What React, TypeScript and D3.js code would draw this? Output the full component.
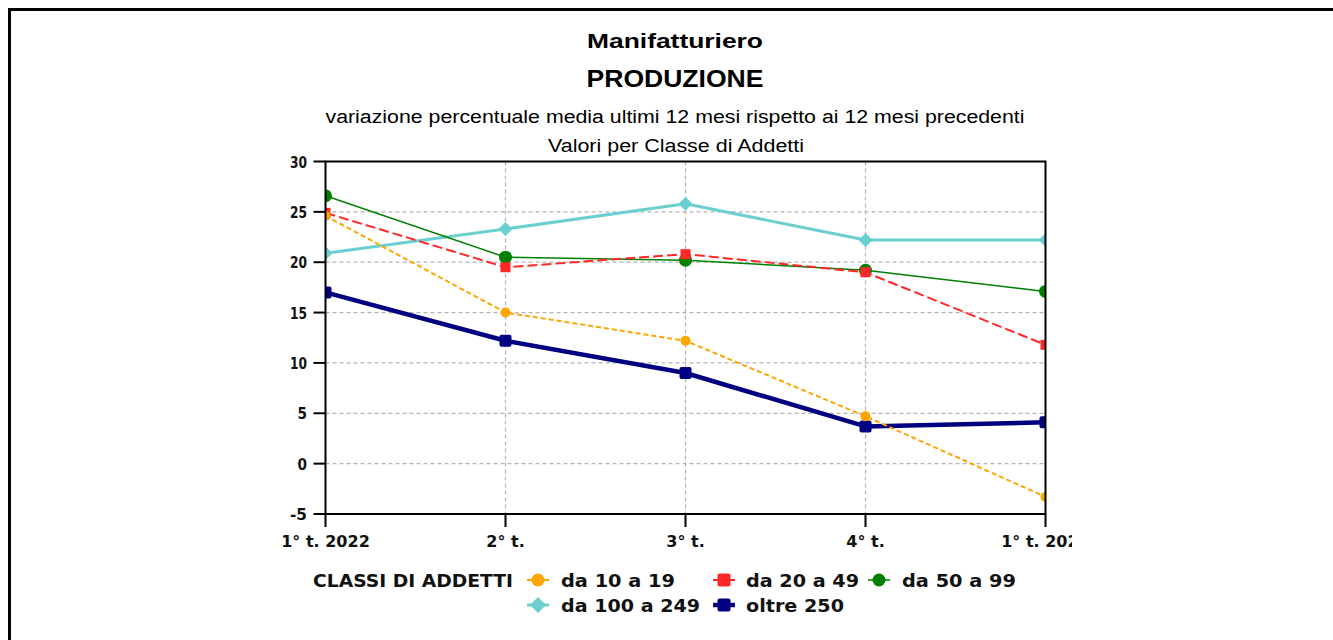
import React from "react";
import * as d3 from "d3";

const categories = ["1° t. 2022", "2° t.", "3° t.", "4° t.", "1° t. 2023"];
const yTicks = [-5, 0, 5, 10, 15, 20, 25, 30];

const da10a19 = [24.6, 15.0, 12.2, 4.7, -3.3];
const da20a49 = [24.9, 19.5, 20.8, 19.0, 11.8];
const da50a99 = [26.6, 20.5, 20.2, 19.2, 17.1];
const da100a249 = [20.9, 23.3, 25.8, 22.2, 22.2];
const oltre250 = [17.0, 12.2, 9.0, 3.7, 4.1];

const seriesNames = ["da 10 a 19", "da 20 a 49", "da 50 a 99", "da 100 a 249", "oltre 250"];

type Style = { color: string; width: number; dash?: string; marker: string; size: number };
const styles: Style[] = [
  { color: "#FFA500", width: 2, dash: "5,3", marker: "circle", size: 5 },
  { color: "#FF2828", width: 2, dash: "10,4", marker: "square", size: 10 },
  { color: "#008000", width: 1.5, marker: "circle", size: 6.5 },
  { color: "#6CCFCF", width: 3, marker: "diamond", size: 7 },
  { color: "#000080", width: 4.5, marker: "square", size: 12 },
];
const values = [da10a19, da20a49, da50a99, da100a249, oltre250];
const drawOrder = [4, 3, 2, 1, 0];

const L = 325.5, R = 1045.5, T = 161.5, B = 514;

function Marker({ kind, x, y, size, color }: { kind: string; x: number; y: number; size: number; color: string }) {
  if (kind === "circle") return <circle cx={x} cy={y} r={size} fill={color} />;
  if (kind === "square")
    return <rect x={x - size / 2} y={y - size / 2} width={size} height={size} rx={size > 11 ? 2 : 0} fill={color} />;
  const s = size;
  return <path d={`M${x},${y - s}L${x + s},${y}L${x},${y + s}L${x - s},${y}Z`} fill={color} />;
}

export default function App() {
  const x = d3.scalePoint<string>().domain(categories).range([L, R]);
  const y = d3.scaleLinear().domain([-5, 30]).range([B, T]);
  const line = d3
    .line<number>()
    .x((_, i) => x(categories[i]) as number)
    .y((d) => y(d));

  const legendRow1 = [
    { i: 0, mx: 538, tx: 561, ty: 587, w: 114 },
    { i: 1, mx: 724, tx: 746, ty: 587, w: 113 },
    { i: 2, mx: 879, tx: 902, ty: 587, w: 114 },
  ];
  const legendRow2 = [
    { i: 3, mx: 538, tx: 561, ty: 612, w: 139 },
    { i: 4, mx: 724, tx: 746, ty: 612, w: 98 },
  ];

  return (
    <svg
      width={1333}
      height={640}
      style={{ position: "absolute", left: 0, top: 0, background: "#fff" }}
    >
      <defs>
        <clipPath id="plotClip">
          <rect x={L} y={T} width={R - L} height={B - T} />
        </clipPath>
        <clipPath id="outerClip">
          <rect x={0} y={0} width={1072} height={640} />
        </clipPath>
      </defs>
      <rect x={9.5} y={9.5} width={3000} height={3000} fill="none" stroke="#000" strokeWidth={3} />

      {/* titles */}
      <g fontFamily="'Liberation Sans', Arial, sans-serif" textAnchor="middle" fill="#000">
        <text x={675} y={48} fontSize={21} fontWeight="bold" textLength={176} lengthAdjust="spacingAndGlyphs">
          Manifatturiero
        </text>
        <text x={675} y={87} fontSize={23.5} fontWeight="bold" textLength={177} lengthAdjust="spacingAndGlyphs">
          PRODUZIONE
        </text>
        <text x={675} y={123} fontSize={18} textLength={699} lengthAdjust="spacingAndGlyphs">
          variazione percentuale media ultimi 12 mesi rispetto ai 12 mesi precedenti
        </text>
        <text x={676} y={152} fontSize={18} textLength={256} lengthAdjust="spacingAndGlyphs">
          Valori per Classe di Addetti
        </text>
      </g>

      <g clipPath="url(#outerClip)">
        {/* grid */}
        {yTicks
          .filter((t) => t > -5 && t < 30)
          .map((t) => (
            <line key={"gy" + t} x1={L} x2={R} y1={y(t)} y2={y(t)} stroke="#b4b4b4" strokeWidth={1.2} strokeDasharray="4,3" />
          ))}
        {categories.slice(1, -1).map((c) => (
          <line key={"gx" + c} x1={x(c)} x2={x(c)} y1={T} y2={B} stroke="#b4b4b4" strokeWidth={1.2} strokeDasharray="4,3" />
        ))}

        {/* series */}
        <g clipPath="url(#plotClip)">
          {drawOrder.map((si) => {
            const st = styles[si];
            return (
              <g key={"s" + si}>
                <path
                  d={line(values[si]) as string}
                  fill="none"
                  stroke={st.color}
                  strokeWidth={st.width}
                  strokeDasharray={st.dash}
                  strokeLinejoin="round"
                />
                {values[si].map((v, i) => (
                  <Marker key={i} kind={st.marker} x={x(categories[i]) as number} y={y(v)} size={st.size} color={st.color} />
                ))}
              </g>
            );
          })}
        </g>

        {/* spines */}
        <rect x={L} y={T} width={R - L} height={B - T} fill="none" stroke="#000" strokeWidth={2} />

        {/* axes */}
        <g fontFamily="'DejaVu Sans', sans-serif" fontWeight="bold" fontSize={16} fill="#111">
          {yTicks.map((t) => (
            <g key={"yt" + t}>
              <line x1={L - 12} x2={L} y1={y(t)} y2={y(t)} stroke="#000" strokeWidth={2} />
              <text x={307} y={y(t) + 6} textAnchor="end" textLength={t < 0 || t >= 10 ? 17 : 9.5} lengthAdjust="spacingAndGlyphs">
                {t}
              </text>
            </g>
          ))}
          {categories.map((c) => (
            <g key={"xt" + c}>
              <line x1={x(c)} x2={x(c)} y1={B} y2={B + 13} stroke="#000" strokeWidth={2} />
              <text x={x(c)} y={547} textAnchor="middle">
                {c}
              </text>
            </g>
          ))}
        </g>
      </g>

      {/* legend */}
      <g fontFamily="'DejaVu Sans', sans-serif" fontWeight="bold" fontSize={18} fill="#111">
        <text x={313} y={587} textLength={200} lengthAdjust="spacingAndGlyphs">
          CLASSI DI ADDETTI
        </text>
        {[...legendRow1, ...legendRow2].map((e) => {
          const st = styles[e.i];
          const my = e.ty - 7;
          return (
            <g key={"lg" + e.i}>
              <line x1={e.mx - 11} x2={e.mx + 11} y1={my} y2={my} stroke={st.color} strokeWidth={st.width} />
              <Marker kind={st.marker} x={e.mx} y={my} size={st.marker === "circle" ? 6.5 : st.marker === "diamond" ? 8 : 13} color={st.color} />
              <text x={e.tx} y={e.ty} textLength={e.w} lengthAdjust="spacingAndGlyphs">
                {seriesNames[e.i]}
              </text>
            </g>
          );
        })}
      </g>
    </svg>
  );
}
